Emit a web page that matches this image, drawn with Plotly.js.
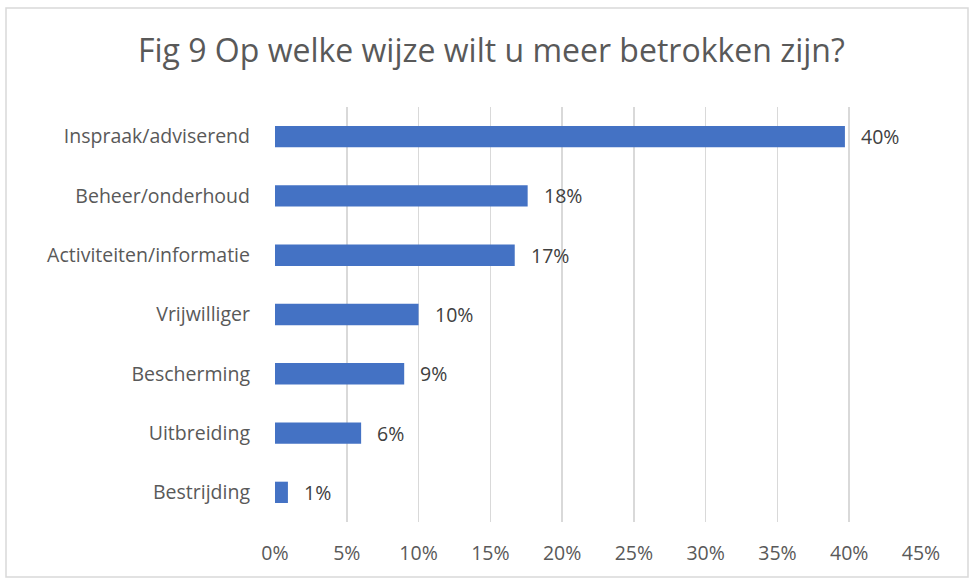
<!DOCTYPE html>
<html>
<head>
<meta charset="utf-8">
<script src="https://cdn.plot.ly/plotly-3.0.1.min.js"></script>
<style>html,body{margin:0;padding:0;background:#fff;}#chart{width:973px;height:579px;}</style>
</head>
<body>
<div id="chart"></div>
<script>
const categories = ["Inspraak/adviserend","Beheer/onderhoud","Activiteiten/informatie","Vrijwilliger","Bescherming","Uitbreiding","Bestrijding"];
const values = [0.397, 0.176, 0.167, 0.100, 0.090, 0.060, 0.009];
const labels = ["40%","18%","17%","10%","9%","6%","1%"];
const tickVals = [0,0.05,0.10,0.15,0.20,0.25,0.30,0.35,0.40,0.45];
const tickText = ["0%","5%","10%","15%","20%","25%","30%","35%","40%","45%"];

const font = "'Open Sans', sans-serif";

const trace = {
  type: "bar",
  orientation: "h",
  y: categories,
  x: values,
  marker: {color: "#4472C4"},
  hoverinfo: "none"
};

const annotations = categories.map((c, i) => ({
  x: values[i], y: c, xref: "x", yref: "y",
  text: labels[i], showarrow: false, xanchor: "left", xshift: 14,
  font: {family: font, size: 19.5, color: "#404040"}
}));

const layout = {
  width: 973, height: 579,
  margin: {l: 275, r: 52, t: 107, b: 57},
  paper_bgcolor: "#fff", plot_bgcolor: "#fff",
  title: {text: "Fig 9 Op welke wijze wilt u meer betrokken zijn?", font: {family: font, size: 32, color: "#595959"}, x: 0.505, xanchor: "center", y: 0.913, yanchor: "middle", xref: "container", yref: "container"},
  bargap: 0.64,
  showlegend: false,
  xaxis: {range: [0, 0.45], tickvals: tickVals, ticktext: tickText, showgrid: true, gridcolor: "#d9d9d9", gridwidth: 1.5, zeroline: false, showline: false, ticks: "", ticklabelstandoff: 17, tickfont: {family: font, size: 19.5, color: "#595959"}, fixedrange: true},
  yaxis: {type: "category", autorange: "reversed", showgrid: false, zeroline: false, showline: false, ticks: "", ticklabelstandoff: 24, tickfont: {family: font, size: 19.5, color: "#595959"}, fixedrange: true},
  annotations: annotations,
  shapes: [{type: "rect", xref: "paper", yref: "paper", x0: -269/646, x1: 1 + 47/646, y0: -55/415, y1: 1 + 99/415, line: {color: "#d9d9d9", width: 1.5}, fillcolor: "rgba(0,0,0,0)", layer: "below"}]
};

Plotly.newPlot("chart", [trace], layout, {displayModeBar: false, staticPlot: true});
</script>
</body>
</html>
